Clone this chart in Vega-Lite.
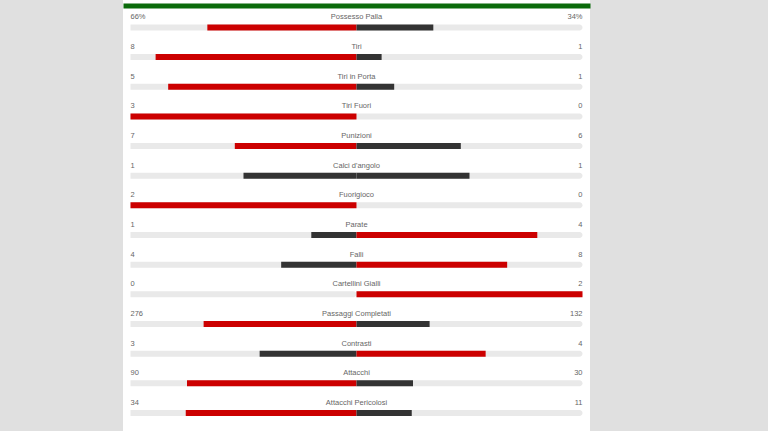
{
  "$schema": "https://vega.github.io/schema/vega-lite/v6.json",
  "width": 467,
  "height": 431,
  "autosize": {"type": "none"},
  "padding": {"left": 123, "top": 0, "right": 178, "bottom": 0},
  "background": "#e0e0e0",
  "config": {"view": {"fill": "white", "stroke": null}, "text": {"font": "Liberation Sans", "fontSize": 7.5, "color": "#666666"}},
  "data": {"values": [
    {"order": 1, "stat": "Possesso Palla", "home": 66, "away": 34, "hl": "66%", "al": "34%"},
    {"order": 2, "stat": "Tiri", "home": 8, "away": 1, "hl": "8", "al": "1"},
    {"order": 3, "stat": "Tiri in Porta", "home": 5, "away": 1, "hl": "5", "al": "1"},
    {"order": 4, "stat": "Tiri Fuori", "home": 3, "away": 0, "hl": "3", "al": "0"},
    {"order": 5, "stat": "Punizioni", "home": 7, "away": 6, "hl": "7", "al": "6"},
    {"order": 6, "stat": "Calci d'angolo", "home": 1, "away": 1, "hl": "1", "al": "1"},
    {"order": 7, "stat": "Fuorigioco", "home": 2, "away": 0, "hl": "2", "al": "0"},
    {"order": 8, "stat": "Parate", "home": 1, "away": 4, "hl": "1", "al": "4"},
    {"order": 9, "stat": "Falli", "home": 4, "away": 8, "hl": "4", "al": "8"},
    {"order": 10, "stat": "Cartellini Gialli", "home": 0, "away": 2, "hl": "0", "al": "2"},
    {"order": 11, "stat": "Passaggi Completati", "home": 276, "away": 132, "hl": "276", "al": "132"},
    {"order": 12, "stat": "Contrasti", "home": 3, "away": 4, "hl": "3", "al": "4"},
    {"order": 13, "stat": "Attacchi", "home": 90, "away": 30, "hl": "90", "al": "30"},
    {"order": 14, "stat": "Attacchi Pericolosi", "home": 34, "away": 11, "hl": "34", "al": "11"}
  ]},
  "transform": [
    {"calculate": "-datum.home / (datum.home + datum.away)", "as": "hneg"},
    {"calculate": "datum.away / (datum.home + datum.away)", "as": "ashare"}
  ],
  "encoding": {
    "y": {"field": "stat", "type": "nominal", "sort": {"field": "order"}, "scale": {"paddingInner": 0, "paddingOuter": 0.2664, "align": 0.796}, "axis": null}
  },
  "layer": [
    {
      "mark": {"type": "bar", "cornerRadiusEnd": 3, "color": "#e9e9e9", "size": 6},
      "encoding": {
        "x": {"datum": -1, "type": "quantitative", "stack": null, "scale": {"domain": [-1.0332, 1.0332], "nice": false, "zero": false},
              "axis": {"orient": "top", "offset": -5.5, "domainColor": "#0b6b0b", "domainWidth": 5, "labels": false, "ticks": false, "grid": false, "title": null}}
      }
    },
    {
      "mark": {"type": "bar", "cornerRadiusEnd": 3, "color": "#e9e9e9", "size": 6},
      "encoding": {
        "x": {"datum": 1, "type": "quantitative", "stack": null}
      }
    },
    {
      "transform": [{"filter": "datum.home > 0"}],
      "mark": {"type": "bar", "size": 6, "x2Offset": -1},
      "encoding": {
        "x": {"field": "hneg", "type": "quantitative", "stack": null},
        "color": {"condition": {"test": "datum.home > datum.away", "value": "#cc0000"}, "value": "#333333"}
      }
    },
    {
      "transform": [{"filter": "datum.away > 0"}],
      "mark": {"type": "bar", "size": 6, "x2Offset": 1},
      "encoding": {
        "x": {"field": "ashare", "type": "quantitative", "stack": null},
        "color": {"condition": {"test": "datum.away > datum.home", "value": "#cc0000"}, "value": "#333333"}
      }
    },
    {
      "mark": {"type": "text", "align": "left", "baseline": "alphabetic", "dy": -8},
      "encoding": {"x": {"datum": -1, "type": "quantitative"}, "text": {"field": "hl"}}
    },
    {
      "mark": {"type": "text", "align": "center", "baseline": "alphabetic", "dy": -8},
      "encoding": {"x": {"datum": 0, "type": "quantitative"}, "text": {"field": "stat"}}
    },
    {
      "mark": {"type": "text", "align": "right", "baseline": "alphabetic", "dy": -8},
      "encoding": {"x": {"datum": 1, "type": "quantitative"}, "text": {"field": "al"}}
    }
  ]
}
